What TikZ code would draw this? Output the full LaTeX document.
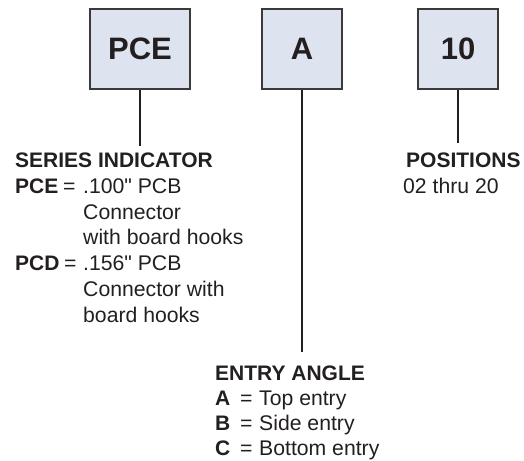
\documentclass[tikz,border=0pt]{standalone}
\usepackage{fontspec}
\setmainfont{Liberation Sans}[Ligatures=TeXOff]
\usepackage{tikz}
\usetikzlibrary{positioning}

\definecolor{boxfill}{HTML}{DDE4F0}
\definecolor{boxline}{HTML}{3A3A3A}
\definecolor{ink}{HTML}{231F20}

\tikzset{
  codebox/.style={draw=boxline, line width=1.6pt, fill=boxfill, minimum height=80pt,
    inner sep=0pt, text=ink, font=\bfseries\fontsize{31}{31}\selectfont},
  head/.style={anchor=base west, inner sep=0pt, text=ink, font=\bfseries\fontsize{21}{25}\selectfont},
  txt/.style={anchor=base west, inner sep=0pt, text=ink, font=\fontsize{21.2}{25}\selectfont},
  lead/.style={draw=ink, line width=2pt}
}

\begin{document}
\begin{tikzpicture}[x=1pt, y=-1pt]
\useasboundingbox (0,0) rectangle (524,460);

% part number boxes
\node [codebox, minimum width=100pt] (pce) at (140,49) {PCE};
\node [codebox, minimum width=80pt] (ang) at (302,49) {A};
\node [codebox, minimum width=80pt] (pos) at (458,49) {10};

\coordinate (pce-end) at (pce.south |- 0,146);
\coordinate (ang-end) at (ang.south |- 0,352);
\coordinate (pos-end) at (pos.south |- 0,143);
\draw [lead] (pce.south) -- (pce-end);
\draw [lead] (ang.south) -- (ang-end);
\draw [lead] (pos.south) -- (pos-end);

% series indicator
\node [head] (ser) at (15,167) {SERIES INDICATOR};
\node [head] (ser1) at (15,193) {PCE};
\node [txt] (eq1) at (63,193) {=};
\node [txt] (ser1a) at (83,193) {.100" PCB};
\node [txt] (ser1b) at (83,219) {Connector};
\node [txt] (ser1c) at (83,244) {with board hooks};
\node [head] (ser2) at (15,270) {PCD};
\node [txt] (eq2) at (64,270) {=};
\node [txt] (ser2a) at (83,270) {.156" PCB};
\node [txt] (ser2b) at (83,296) {Connector with};
\node [txt] (ser2c) at (83,322) {board hooks};

% positions
\node [head] (posh) at (406,167) {POSITIONS};
\node [txt] (pos1) at (403,193) {02 thru 20};

% entry angle
\node [head] (angh) at (215,380) {ENTRY ANGLE};
\node [head] (anga) at (215,405) {A};
\node [txt] (eqa) at (240,405) {=};
\node [txt] (anga1) at (259,405) {Top entry};
\node [head] (angb) at (215,430) {B};
\node [txt] (eqb) at (240,430) {=};
\node [txt] (angb1) at (259,430) {Side entry};
\node [head] (angc) at (215,455) {C};
\node [txt] (eqc) at (240,455) {=};
\node [txt] (angc1) at (259,455) {Bottom entry};
\end{tikzpicture}
\end{document}
